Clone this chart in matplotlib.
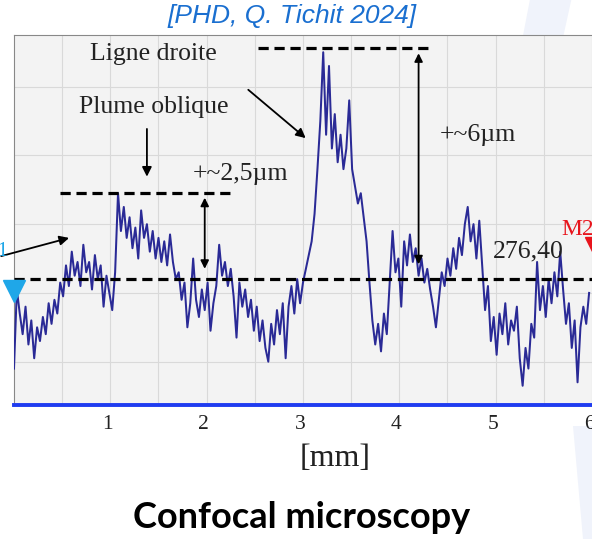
import numpy as np
import matplotlib.pyplot as plt
from matplotlib.patches import Polygon

# profile, deviation in um above 276 um, every 0.03 mm
step_mm = 0.03
base_um = 276.0
profile_dev = [
    -2.2, 0.1, -0.6, -1.2, -0.4, -1.5, -0.8, -1.9, -1.0, -1.4,
    -0.7, -1.2, -0.3, -0.9, -0.2, -0.6, 0.3, -0.1, 0.8, 0.2,
    1.2, 0.5, 0.9, 0.2, 1.4, 0.6, 0.9, 0.1, 1.1, 0.4,
    0.8, -0.4, 0.5, 0.0, -0.5, 0.6, 2.9, 1.8, 2.5, 1.6,
    2.2, 1.3, 1.9, 1.0, 2.4, 1.6, 2.0, 1.2, 1.8, 1.0,
    1.6, 0.9, 1.5, 0.8, 1.7, 0.9, 0.4, 0.6, -0.2, 0.3,
    -1.0, -0.3, 1.0, -0.2, -0.7, 0.1, -0.5, 0.3, -1.1, -0.3,
    0.2, 1.4, 0.5, 0.9, 0.2, 0.7, -0.1, -1.3, 0.3, -0.4,
    0.1, -0.7, -0.2, -1.1, -0.4, -1.4, -0.8, -1.6, -2.0, -0.9,
    -1.5, -0.5, -1.2, -0.3, -1.9, -0.4, 0.2, -0.6, 0.4, -0.3,
    0.3, 0.7, 1.1, 1.5, 2.3, 3.6, 5.0, 7.0, 4.6, 6.6,
    4.2, 5.2, 3.8, 4.6, 3.6, 4.2, 5.6, 3.6, 3.1, 2.6,
    2.9, 2.2, 1.5, 0.3, -0.8, -1.5, -0.9, -1.7, -0.6, -1.2,
    0.3, 1.8, 0.6, 1.0, -0.4, 1.5, 0.8, 1.7, 0.9, 1.3,
    0.5, 1.0, 0.3, 0.7, 0.1, -0.4, -1.0, -0.2, 0.6, 0.2,
    1.0, 0.5, 1.3, 0.7, 1.6, 1.1, 2.0, 2.5, 1.5, 2.0,
    1.0, 2.1, 0.8, -0.5, 0.2, -1.4, -0.7, -1.8, -0.6, -1.2,
    -0.3, -1.5, -0.8, -1.1, -0.4, -1.9, -2.7, -1.6, -2.2, -0.9,
    -1.3, 0.9, -0.5, 0.2, -0.7, 0.4, -0.3, 0.6, -0.1, 1.2,
    0.1, -0.9, -0.3, -1.6, -0.8, -2.6, -1.0, -0.4, -0.9, 0.0,
]
mean_level = 276.40
plume_level = 278.9
droite_level = 283.12
tick_mm = [1, 2, 3, 4, 5, 6]

x = np.arange(len(profile_dev)) * step_mm
z = base_um + np.array(profile_dev)

serif = 'Liberation Serif'
txt = '#222222'

fig = plt.figure(figsize=(5.92, 5.39), dpi=100)
fig.patch.set_facecolor('white')

# faint watermark shapes of the slide (behind the axes)
fig.patches.append(Polygon([[0.895, 1.0], [0.965, 1.0], [0.925, 0.80], [0.86, 0.80]],
                           closed=True, transform=fig.transFigure,
                           facecolor='#f0f3fb', edgecolor='none', zorder=-1))
fig.patches.append(Polygon([[0.968, 0.21], [1.0, 0.21], [1.0, 0.0], [0.985, 0.0]],
                           closed=True, transform=fig.transFigure,
                           facecolor='#f0f3fb', edgecolor='none', zorder=-1))

ax = fig.add_axes([0.0236, 0.2486, 0.9764, 0.6864])
ax.set_facecolor('#f3f3f3')
ax.set_xlim(0, 6)
ax.set_ylim(272.74, 283.5)

ax.set_xticks(np.arange(0.5, 6.01, 0.5))
ax.set_yticks([274, 276, 278, 280, 282])
ax.grid(True, color='#d9d9d9', lw=0.8)
ax.set_axisbelow(True)
ax.tick_params(length=0, labelleft=False, labelbottom=False)

for s in ['left', 'top']:
    ax.spines[s].set_color('#888888')
    ax.spines[s].set_linewidth(0.8)
ax.spines['right'].set_visible(False)
ax.spines['bottom'].set_color('#1f3cf0')
ax.spines['bottom'].set_linewidth(2.8)

for t in tick_mm:
    ax.text(t - 0.03, 272.74 - 0.58, str(t), ha='center', va='center',
            fontsize=15.5, family=serif, color=txt, clip_on=False)

ax.plot(x, z, color='#2a2a96', lw=1.45, zorder=3)

dash = dict(color='black', lw=2.3, linestyle=(0, (3.2, 1.8)), zorder=4)
ax.axhline(mean_level, **dash)
ax.plot([0.48, 2.26], [plume_level, plume_level], **dash)
ax.plot([2.53, 4.32], [droite_level, droite_level], **dash)

fs = 18.5
ax.text(5.34, 277.2, '276,40', ha='center', va='center', fontsize=fs,
        family=serif, color=txt, zorder=5)
ax.text(1.45, 282.95, 'Ligne droite', ha='center', va='center', fontsize=fs,
        family=serif, color=txt)
ax.text(1.45, 281.4, 'Plume oblique', ha='center', va='center', fontsize=fs,
        family=serif, color=txt)
ax.text(2.35, 279.45, '+~2,5µm', ha='center', va='center', fontsize=fs,
        family=serif, color=txt)
ax.text(4.82, 280.6, '+~6µm', ha='center', va='center', fontsize=fs,
        family=serif, color=txt)

arr = dict(arrowstyle='-|>', color='black', lw=1.3, mutation_scale=14)
dbl = dict(arrowstyle='<|-|>', color='black', lw=1.3, mutation_scale=12)
ax.annotate('', xy=(1.38, 279.3), xytext=(1.38, 280.85), arrowprops=arr)
ax.annotate('', xy=(3.05, 280.45), xytext=(2.41, 281.96), arrowprops=arr)
ax.annotate('', xy=(0.6, 277.62), xytext=(-0.16, 277.05), arrowprops=arr,
            annotation_clip=False)
ax.annotate('', xy=(1.98, 278.85), xytext=(1.98, 276.62), arrowprops=dbl)
ax.annotate('', xy=(4.2, 283.05), xytext=(4.2, 276.75), arrowprops=dbl)

# cursors M1 / M2
ax.plot([0.0], [276.06], marker='v', ms=16, color='#1fa7e8', clip_on=False, zorder=6)
ax.text(-0.06, 277.2, 'M1', ha='right', va='center', fontsize=15,
        family=serif, color='#1fa7e8', clip_on=False)
ax.plot([6.04], [277.3], marker='v', ms=16, color='#e8141c', clip_on=False, zorder=6)
ax.text(5.68, 277.85, 'M2', ha='left', va='center', fontsize=17,
        family=serif, color='#e8141c', clip_on=False)

fig.text(0.493, 0.970, '[PHD, Q. Tichit 2024]', ha='center', va='center',
         fontsize=19, style='italic', family='Liberation Sans', color='#1a6fd0')
fig.text(0.566, 0.150, '[mm]', ha='center', va='center', fontsize=23,
         family=serif, color=txt)
fig.text(0.51, 0.040, 'Confocal microscopy', ha='center', va='center',
         fontsize=26, weight='bold', family='Lato', color='black')

fig.savefig('out.png', dpi=100)
